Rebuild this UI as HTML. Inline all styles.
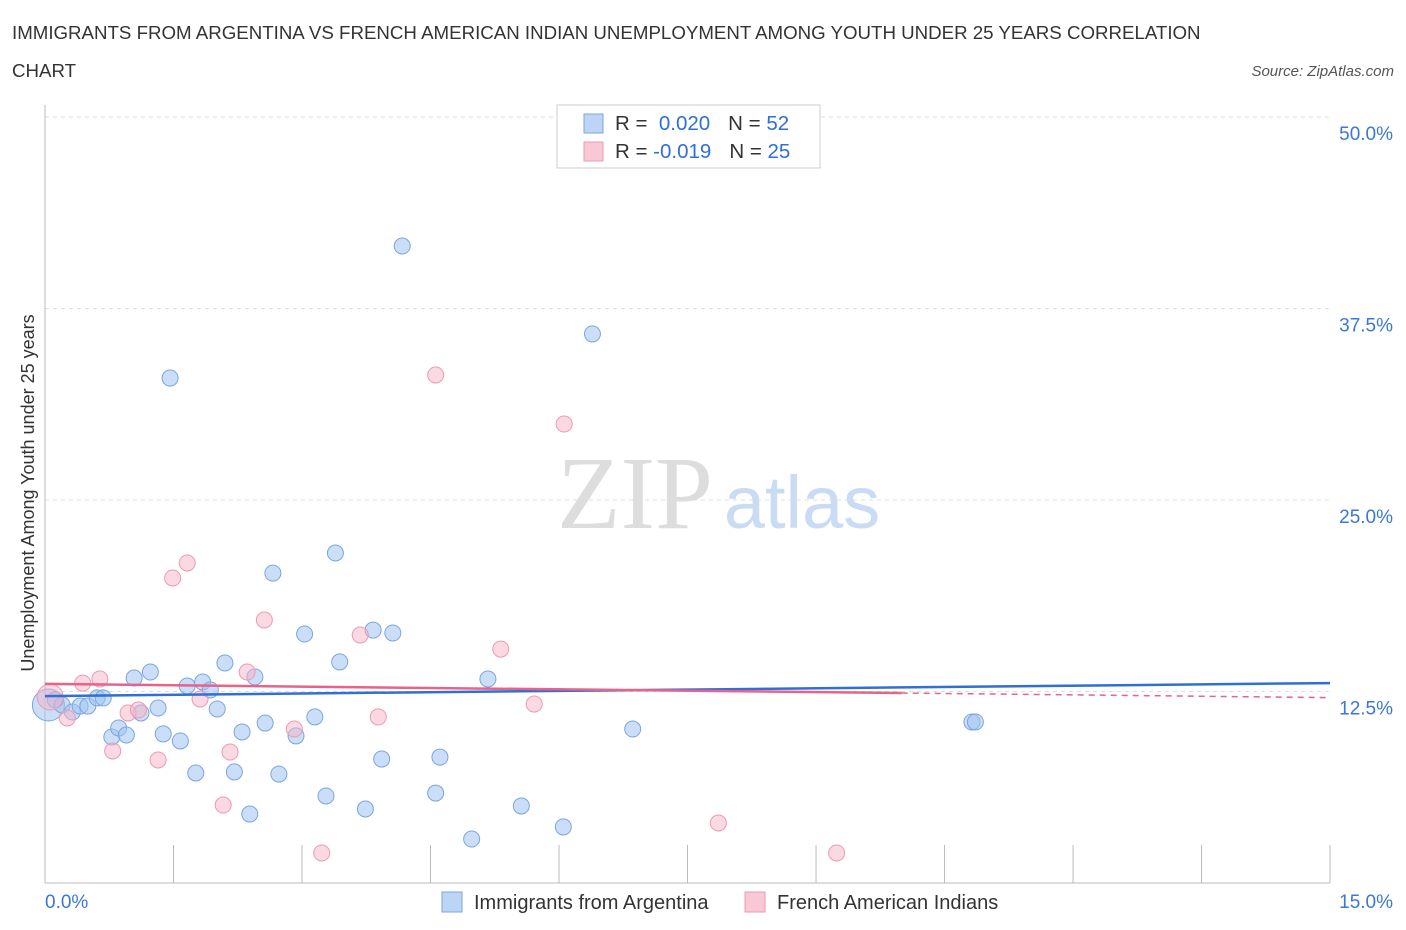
<!DOCTYPE html>
<html><head><meta charset="utf-8"><style>
body{margin:0;background:#fff;font-family:"Liberation Sans",sans-serif;}
svg{display:block}
</style></head><body>
<svg id="chart" width="1406" height="930">
<text x="12" y="39" font-size="18.7" fill="#333">IMMIGRANTS FROM ARGENTINA VS FRENCH AMERICAN INDIAN UNEMPLOYMENT AMONG YOUTH UNDER 25 YEARS CORRELATION</text>
<text x="12" y="77" font-size="18.7" fill="#333">CHART</text>
<text x="1394" y="76" font-size="15" fill="#555" font-style="italic" text-anchor="end">Source: ZipAtlas.com</text>
<text x="635" y="528" font-size="104" fill="#ddd" font-family="Liberation Serif,serif" text-anchor="middle">ZIP</text>
<text x="802" y="528" font-size="74" fill="#c9dcf3" text-anchor="middle">atlas</text>
<text transform="translate(34,493) rotate(-90)" font-size="18" fill="#333" text-anchor="middle">Unemployment Among Youth under 25 years</text>
<g id="grid"></g><g id="pts"></g><g id="lines"></g>
<g>
<rect x="557" y="105" width="263" height="63" fill="#fff" stroke="#ccc"/>
<rect x="584" y="114" width="19" height="19" fill="#bcd5f5" stroke="#7aa6e0"/>
<rect x="584" y="142" width="19" height="19" fill="#f9c8d6" stroke="#eb9ab4"/>
<text x="615" y="130" font-size="20.5" fill="#333">R = <tspan fill="#2f6fd6">&#160;0.020</tspan><tspan dx="18">N = </tspan><tspan fill="#2f6fd6">52</tspan></text>
<text x="615" y="158" font-size="20.5" fill="#333">R = <tspan fill="#2f6fd6">-0.019</tspan><tspan dx="18">N = </tspan><tspan fill="#2f6fd6">25</tspan></text>
</g>
<g>
<rect x="442" y="892" width="20" height="20" fill="#bcd5f5" stroke="#7aa6e0"/>
<text x="474" y="909" font-size="20" fill="#333">Immigrants from Argentina</text>
<rect x="745" y="892" width="20" height="20" fill="#f9c8d6" stroke="#eb9ab4"/>
<text x="777" y="909" font-size="20" fill="#333">French American Indians</text>
</g>
</svg>
<script>
const blueX=[0.04,0.12,0.20,0.32,0.41,0.50,0.61,0.68,0.78,0.86,0.95,1.04,1.12,1.23,1.32,1.38,1.46,1.58,1.66,1.76,1.84,1.93,2.01,2.10,2.21,2.30,2.39,2.45,2.57,2.66,2.73,2.93,3.03,3.15,3.28,3.39,3.44,3.74,3.83,3.93,4.06,4.17,4.56,4.61,4.98,5.17,5.56,6.05,6.39,6.86,10.82,10.86];
const blueY=[11.62,11.95,11.62,11.16,11.55,11.55,12.08,12.08,9.53,10.12,9.66,13.38,11.10,13.77,11.42,9.73,32.96,9.27,12.86,7.18,13.12,12.60,11.36,14.36,7.25,9.86,4.50,13.45,10.44,20.23,7.11,9.60,16.25,10.84,5.68,21.54,14.43,4.83,16.51,8.09,16.32,41.58,5.87,8.22,2.87,13.32,5.03,3.66,35.84,10.05,10.51,10.51];
const pinkX=[0.06,0.26,0.44,0.64,0.79,0.97,1.09,1.32,1.49,1.66,1.81,2.08,2.16,2.36,2.56,2.91,3.23,3.68,3.89,4.56,5.32,5.71,6.06,7.86,9.24];
const pinkY=[12.14,10.77,13.05,13.32,8.62,11.10,11.29,8.03,19.91,20.89,12.01,5.09,8.55,13.77,17.17,10.05,1.96,16.19,10.84,33.16,15.27,11.68,29.96,3.92,1.96];
const yTicks=[12.5,25,37.5,50];
const yTickLabels=["12.5%","25.0%","37.5%","50.0%"];
const blueTrend=[[0,12.2],[15,13.05]];
const pinkTrend=[[0,13.0],[10,12.4],[15,12.1]];
const X=v=>45+v*85.67, Y=v=>883-v*15.32;
const NS="http://www.w3.org/2000/svg";
function mk(t,a,p){const e=document.createElementNS(NS,t);for(const k in a)e.setAttribute(k,a[k]);p.appendChild(e);return e;}
const g=document.getElementById('grid');
yTicks.forEach((t,i)=>{
 const l=mk('line',{x1:45,x2:1330,y1:Y(t),y2:Y(t),stroke:'#ddd','stroke-dasharray':'4 4'},g);
 
 
 const tx=mk('text',{x:1393,y:Y(t)+23,'font-size':19,fill:'#3a78d8','text-anchor':'end'},g);
 tx.textContent=yTickLabels[i];
 
 
});
mk('line',{x1:45,x2:45,y1:105,y2:883,stroke:'#bbb'},g);
mk('line',{x1:45,x2:1330,y1:883,y2:883,stroke:'#bbb'},g);
for(let i=0;i<=10;i++){const tk=mk('line',{x1:X(i*1.5),x2:X(i*1.5),y1:845,y2:883,stroke:'#bbb'},g);
 
 }
const x0=mk('text',{x:45,y:908,'font-size':19,fill:'#3a78d8'},g);x0.textContent='0.0%';


const x1=mk('text',{x:1393,y:908,'font-size':19,fill:'#3a78d8','text-anchor':'end'},g);x1.textContent='15.0%';


const p=document.getElementById('pts');
blueX.forEach((v,i)=>{const c=mk('circle',{cx:X(v),cy:Y(blueY[i]),r:i==0?16:8,fill:'rgba(160,195,240,0.55)',stroke:'#7aa6e0','stroke-width':1},p);
 
 });
pinkX.forEach((v,i)=>{const c=mk('circle',{cx:X(v),cy:Y(pinkY[i]),r:i==0?13:8,fill:'rgba(246,180,200,0.5)',stroke:'#eb9ab4','stroke-width':1},p);
 
 });
const L=document.getElementById('lines');
const bl=mk('line',{x1:X(blueTrend[0][0]),y1:Y(blueTrend[0][1]),x2:X(blueTrend[1][0]),y2:Y(blueTrend[1][1]),stroke:'#2f6fd6','stroke-width':2.5},L);


const pl=mk('line',{x1:X(pinkTrend[0][0]),y1:Y(pinkTrend[0][1]),x2:X(pinkTrend[1][0]),y2:Y(pinkTrend[1][1]),stroke:'#e8628a','stroke-width':2.5},L);


const pd=mk('line',{x1:X(pinkTrend[1][0]),y1:Y(pinkTrend[1][1]),x2:X(pinkTrend[2][0]),y2:Y(pinkTrend[2][1]),stroke:'#e8628a','stroke-width':1.5,'stroke-dasharray':'6 5'},L);


</script>
</body></html>
